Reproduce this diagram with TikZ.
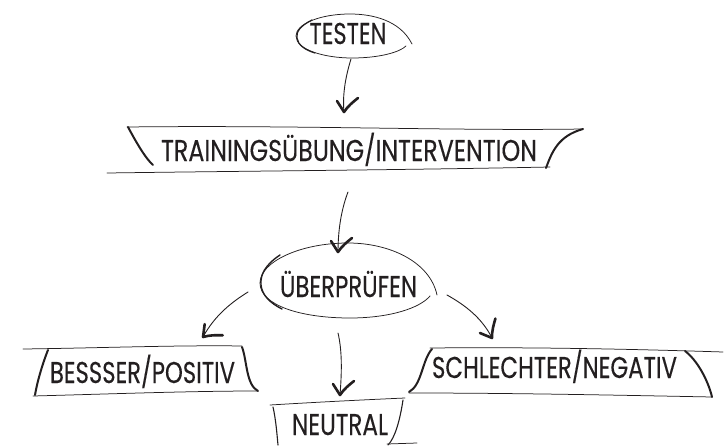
\documentclass[tikz,border=0pt]{standalone}
\usepackage{fontspec}
\setmainfont{Poppins}[FakeBold=0.3]
\definecolor{ink}{HTML}{231F20}
\newcommand\lab[2]{\resizebox{#1}{21pt}{\raisebox{0pt}[\fontcharht\font`T][0pt]{#2}}}
\newcommand\ahead[2]{%
  \begin{scope}[shift={(#1)}, rotate=#2]
    \draw[headline] (-7,-11) .. controls (-4,-6) .. (0,0) .. controls (4,-6) and (9,-10) .. (14,-14);
  \end{scope}}
\begin{document}
\begin{tikzpicture}[x=1pt,y=-1pt,
  lbl/.style={inner sep=0pt, anchor=base, text=ink},
  thinline/.style={ink, line width=0.75pt, line cap=round},
  thickline/.style={ink, line width=2pt, line cap=round},
  stem/.style={ink, line width=0.9pt, line cap=round},
  headline/.style={ink, line width=2.6pt, line cap=round, line join=round}]
\useasboundingbox (0,0) rectangle (724,447);

% labels
\node[lbl] (testen) at (348,44) {\lab{77pt}{TESTEN}};
\node[lbl] (train) at (349,161) {\lab{376pt}{TRAININGSÜBUNG/INTERVENTION}};
\node[lbl] (pruef) at (348.5,297) {\lab{137pt}{ÜBERPRÜFEN}};
\node[lbl] (besser) at (142.5,383) {\lab{185pt}{BESSSER/POSITIV}};
\node[lbl] (schlecht) at (554.5,378) {\lab{245pt}{SCHLECHTER/NEGATIV}};
\node[lbl] (neutral) at (340,435) {\lab{96pt}{NEUTRAL}};

% TESTEN ellipse
\draw[thinline] (412,44) .. controls (400,20) and (372,14) .. (350,14)
  .. controls (320,14) and (296,24) .. (296,36)
  .. controls (296,50) and (325,58) .. (352,58)
  .. controls (380,58) and (400,52) .. (406,46);
\draw[ink, line width=1.2pt, line cap=round] (312,20) .. controls (300,26) and (296,32) .. (297,38) .. controls (298,45) and (305,50) .. (315,53);

% UEBERPRUEFEN ellipse
\draw[thinline] (437,295) .. controls (430,262) and (390,243) .. (348,243)
  .. controls (300,243) and (260,262) .. (260,283)
  .. controls (260,305) and (300,318) .. (350,318)
  .. controls (390,318) and (420,308) .. (430,296);
\draw[ink, line width=1.4pt, line cap=round] (280,255) .. controls (265,265) and (260,275) .. (261,285) .. controls (262,295) and (270,303) .. (282,309);

% TRAINING banner
\draw[thinline] (127,127) .. controls (300,125) and (450,131) .. (583,129);
\draw[thinline] (107,173) .. controls (250,171) and (400,170) .. (550,167);
\draw[thickline] (128,127) .. controls (135,140) and (145,158) .. (153,165);
\draw[thickline] (546,168) .. controls (552,152) and (558,136) .. (583,129);

% BESSSER banner
\draw[thinline] (23,349) .. controls (100,348) and (180,345) .. (242,346);
\draw[thinline] (33,396) .. controls (110,394) and (190,391) .. (258,391);
\draw[thickline] (48,350) .. controls (42,365) and (37,383) .. (35,395);
\draw[thickline] (242,347) .. controls (247,360) and (246,385) .. (258,391);

% SCHLECHTER banner
\draw[thinline] (430,348) .. controls (530,347) and (630,349) .. (723,352);
\draw[thinline] (409,393) .. controls (510,393) and (610,395) .. (712,397);
\draw[thickline] (432,349) .. controls (422,360) and (422,385) .. (409,392);
\draw[thickline] (685,351) .. controls (697,360) and (708,380) .. (712,397);

% NEUTRAL banner
\draw[thinline] (270,405) .. controls (320,402) and (360,400) .. (405,398);
\draw[thinline] (387,444) -- (417,443);
\draw[ink, line width=1.1pt, line cap=round] (273,407) .. controls (276,420) and (277,435) .. (278,445);
\draw[ink, line width=1.1pt, line cap=round] (403,400) .. controls (400,420) and (395,438) .. (388,445);

% arrows
\coordinate (a1s) at (351,59);  \coordinate (a1t) at (344,112);
\coordinate (a2s) at (348,192); \coordinate (a2t) at (338,252);
\coordinate (a3s) at (248,292); \coordinate (a3t) at (203,337);
\coordinate (a4s) at (447,295); \coordinate (a4t) at (492,338);
\coordinate (a5s) at (338,333); \coordinate (a5t) at (340,395);

\draw[stem] (a1s) .. controls (347,72) and (342,92) .. (a1t);
\ahead{a1t}{0}
\draw[stem] (a2s) .. controls (343,205) and (338,225) .. (a2t);
\ahead{a2t}{0}
\draw[stem] (a3s) .. controls (232,302) and (215,315) .. (a3t);
\ahead{a3t}{-40}
\draw[stem] (a4s) .. controls (465,305) and (482,318) .. (a4t);
\ahead{a4t}{35}
\draw[stem] (a5s) .. controls (342,350) and (342,370) .. (a5t);
\ahead{a5t}{0}
\end{tikzpicture}
\end{document}
